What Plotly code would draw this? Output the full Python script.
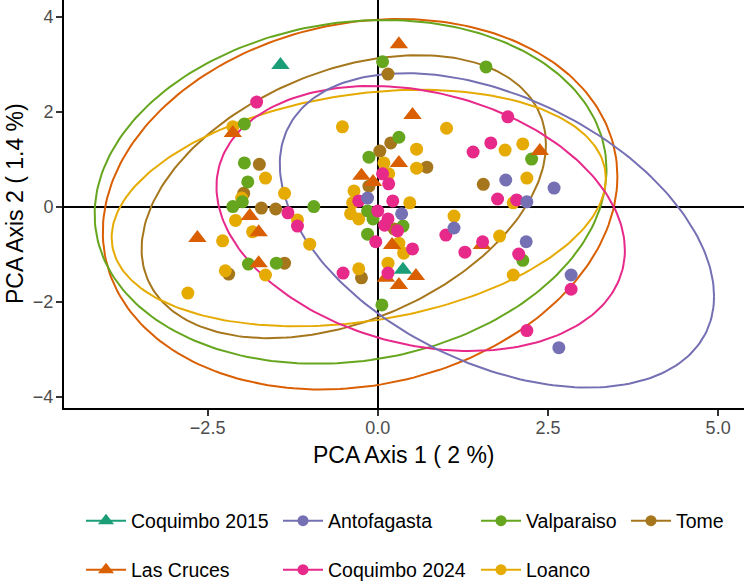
import numpy as np
import plotly.graph_objects as go

# ---------------- data ----------------
groups = ["Coquimbo 2015", "Las Cruces", "Antofagasta", "Coquimbo 2024",
          "Valparaiso", "Loanco", "Tome"]
colors = {"Coquimbo 2015": "#1B9E77", "Las Cruces": "#D95F02",
          "Antofagasta": "#7570B3", "Coquimbo 2024": "#E7298A",
          "Valparaiso": "#66A61E", "Loanco": "#E6AB02", "Tome": "#A6761D"}
symbols = {"Coquimbo 2015": "triangle-up", "Las Cruces": "triangle-up"}

coq2015_x = [-1.43, 0.37]
coq2015_y = [2.98, -1.33]

lascruces_x = [0.31, 0.51, 0.31, 2.38, -2.13, -2.65, -1.88, -1.75, -1.75, -0.24,
               -0.07, 0.21, 0.12, 0.31, 0.56, 1.53]
lascruces_y = [3.42, 1.93, 0.92, 1.17, 1.55, -0.66, -0.20, -0.54, -1.19, 0.65,
               0.52, -0.81, -1.50, -1.65, -1.46, -0.81]

antof_x = [-0.15, 0.35, 1.12, 1.88, 2.59, 2.19, 2.18, 2.84, 2.66]
antof_y = [0.18, -0.15, -0.45, 0.56, 0.39, 0.10, -0.74, -1.44, -2.97]

coq2024_x = [-1.78, 1.91, 1.66, 1.40, 1.76, 2.04, 0.07, 0.16, -0.28, 0.22, 0.00,
             0.15, 0.10, 0.29, -0.03, 0.51, -0.51, 0.15, 1.00, -1.32, -1.18,
             1.54, 1.28, 2.07, 2.84, 2.19]
coq2024_y = [2.20, 1.89, 1.34, 1.15, 0.16, 0.14, 0.69, 0.48, 0.12, 0.12, -0.09,
             -0.26, -0.39, -0.51, -0.74, -0.89, -1.40, -1.40, -0.60, -0.13, -0.41,
             -0.74, -0.96, -1.00, -1.74, -2.61]

valp_x = [0.07, 1.59, 0.31, -0.13, 2.26, -1.96, -1.96, -1.91, -2.13, -1.99, -0.94,
          -1.90, -1.49, -0.15, -0.07, -0.15, 0.37, 2.13, 0.06]
valp_y = [3.05, 2.94, 1.46, 1.04, 1.00, 1.74, 0.92, 0.52, 0.00, 0.10, 0.00,
          -1.21, -1.19, -0.09, -0.26, -0.58, -0.41, -1.13, -2.07]

loanco_x = [-2.13, -1.65, -1.37, -0.52, -2.09, -1.84, -2.28, -2.24, -1.65, -2.79,
            -1.00, -1.18, -2.00, 1.01, 0.57, 0.57, 0.09, 0.16, -0.35, -0.37,
            -0.40, -0.28, 0.47, 1.12, 0.31, 0.38, 0.15, -0.28, 1.87, 2.13,
            2.19, 1.99, 1.79, 1.99]
loanco_y = [1.68, 0.60, 0.28, 1.68, -0.29, -0.53, -0.72, -1.35, -1.44, -1.82,
            -0.79, -0.28, 0.18, 1.65, 1.21, 0.81, 0.92, 0.69, 0.33, 0.08,
            -0.15, -0.26, 0.08, -0.20, -0.77, -0.98, -1.19, -1.31, 1.19, 1.32,
            0.60, 0.08, -0.62, -1.44]

tome_x = [0.15, 0.19, 0.03, 0.72, 1.55, -1.74, -1.97, -1.71, -1.50, -1.37, -2.19,
          -0.13, -0.24, 0.24]
tome_y = [2.79, 1.34, 1.17, 0.83, 0.47, 0.89, 0.28, -0.03, -0.05, -1.19, -1.42,
          0.43, -1.50, -0.47]

points = {"Coquimbo 2015": (coq2015_x, coq2015_y),
          "Las Cruces": (lascruces_x, lascruces_y),
          "Antofagasta": (antof_x, antof_y),
          "Coquimbo 2024": (coq2024_x, coq2024_y),
          "Valparaiso": (valp_x, valp_y),
          "Loanco": (loanco_x, loanco_y),
          "Tome": (tome_x, tome_y)}

# 95% ellipse parameters per group: centre x, centre y, half-width, half-height, correlation
ell_groups = ["Las Cruces", "Valparaiso", "Tome", "Loanco", "Coquimbo 2024", "Antofagasta"]
ell_cx = [-0.26, -0.40, -0.50, -0.28, 0.63, 1.75]
ell_cy = [0.05, 0.31, 0.21, -0.03, -0.25, -0.50]
ell_sx = [3.78, 3.76, 2.97, 3.63, 3.00, 3.19]
ell_sy = [3.90, 3.62, 2.98, 2.49, 2.79, 3.31]
ell_r = [0.15, 0.13, 0.37, 0.25, -0.24, -0.42]

x_ticks = [-2.5, 0.0, 2.5, 5.0]
y_ticks = [-4, -2, 0, 2, 4]

FONT = "Liberation Sans, Arial, Helvetica, sans-serif"

fig = go.Figure()

# ellipses
t = np.linspace(0, 2 * np.pi, 241)
for g, cx, cy, sx, sy, r in zip(ell_groups, ell_cx, ell_cy, ell_sx, ell_sy, ell_r):
    ex = cx + sx * np.cos(t)
    ey = cy + sy * (r * np.cos(t) + np.sqrt(1 - r * r) * np.sin(t))
    fig.add_trace(go.Scatter(x=ex, y=ey, mode="lines", showlegend=False,
                             line=dict(color=colors[g], width=2), hoverinfo="skip"))

# points
draw_order = ["Tome", "Loanco", "Valparaiso", "Las Cruces", "Coquimbo 2024",
              "Antofagasta", "Coquimbo 2015"]
for g in draw_order:
    xs, ys = points[g]
    sym = symbols.get(g, "circle")
    fig.add_trace(go.Scatter(x=xs, y=ys, mode="markers", name=g, showlegend=False,
                             marker=dict(color=colors[g], symbol=sym,
                                         size=16 if sym != "circle" else 13,
                                         line=dict(width=0))))

# legend entries (one legend per cell, ggplot-style column fill)
legend_cells = {"Coquimbo 2015": (131, 521), "Antofagasta": (328, 521),
                "Valparaiso": (526, 521), "Tome": (676, 521),
                "Las Cruces": (131, 570), "Coquimbo 2024": (328, 570),
                "Loanco": (526, 570)}
ITEMW = 40
W, H = 744, 583
legend_layout = {}
for i, g in enumerate(groups):
    key = "legend" if i == 0 else f"legend{i + 1}"
    sym = symbols.get(g, "circle")
    fig.add_trace(go.Scatter(x=[None], y=[None], mode="lines+markers", name=g,
                             legend=key, showlegend=True,
                             line=dict(color=colors[g], width=2),
                             marker=dict(color=colors[g], symbol=sym,
                                         size=14 if sym != "circle" else 11)))
    tx, ty = legend_cells[g]
    legend_layout[key] = dict(x=(tx - ITEMW - 10) / W, y=1 - ty / H, xref="container",
                              yref="container", xanchor="left", yanchor="middle",
                              bgcolor="rgba(0,0,0,0)", borderwidth=0,
                              font=dict(family=FONT, size=19.5, color="black"),
                              itemwidth=ITEMW)

fig.update_layout(
    width=W, height=H,
    margin=dict(l=64, r=0, t=0, b=175, autoexpand=False),
    plot_bgcolor="white", paper_bgcolor="white",
    font=dict(family=FONT),
    **legend_layout,
    annotations=[
        dict(text="PCA Axis 1 ( 2 %)", xref="paper", yref="paper", x=0.5,
             y=(408 - 455) / 408, xanchor="center", yanchor="middle",
             showarrow=False, font=dict(family=FONT, size=23, color="black")),
        dict(text="PCA Axis 2 ( 1.4 %)", xref="paper", yref="paper",
             x=(15 - 64) / 680, y=0.5, xanchor="center", yanchor="middle",
             textangle=-90, showarrow=False,
             font=dict(family=FONT, size=23, color="black")),
    ],
)

axis_common = dict(showgrid=False, showline=True, linecolor="black", linewidth=2,
                   ticks="outside", ticklen=6, tickwidth=1.5, tickcolor="#333333",
                   tickfont=dict(family=FONT, size=18, color="#4D4D4D"),
                   zeroline=True, zerolinecolor="black", zerolinewidth=2,
                   mirror=False, automargin=False)
fig.update_xaxes(range=[-4.61, 5.38], tickvals=x_ticks, tickformat=".1f",
                 ticklabelstandoff=-4, **axis_common)
fig.update_yaxes(range=[-4.24, 4.35], tickvals=y_ticks, tickformat="d",
                 ticklabelstandoff=-1, **axis_common)

fig.write_html("out.html")
